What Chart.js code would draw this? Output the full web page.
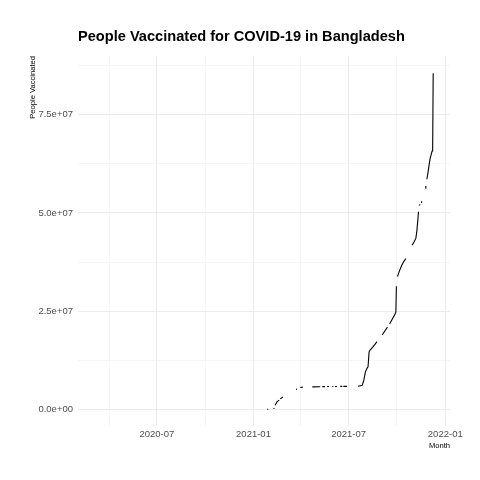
<!DOCTYPE html>
<html>
<head>
<meta charset="utf-8">
<script src="https://cdn.jsdelivr.net/npm/chart.js@4.4.1/dist/chart.umd.min.js"></script>
<style>
  html, body { margin: 0; padding: 0; background: #fff; }
  #wrap { width: 480px; height: 480px; position: relative; }
</style>
</head>
<body>
<div id="wrap"><canvas id="chart"></canvas></div>
<script>
// Bangladesh, people vaccinated (null = missing day, breaks the line)
const dates = [
  "2021-01-27", "2021-01-28", "2021-01-30",
  "2021-02-08", "2021-02-09", "2021-02-10",
  "2021-02-11", "2021-02-15", "2021-02-19", "2021-02-20",
  "2021-02-21", "2021-02-26", "2021-03-01",
  "2021-03-23", "2021-03-25", "2021-03-28",
  "2021-03-31", "2021-04-05", "2021-04-14",
  "2021-04-23", "2021-05-08", "2021-05-10",
  "2021-05-12", "2021-05-17", "2021-05-19",
  "2021-05-21", "2021-05-25", "2021-05-28",
  "2021-05-31", "2021-06-02", "2021-06-04",
  "2021-06-05", "2021-06-09", "2021-06-12",
  "2021-06-15", "2021-06-19", "2021-06-20",
  "2021-06-21", "2021-06-28", "2021-07-05",
  "2021-07-19", "2021-07-27", "2021-07-30", "2021-08-02", "2021-08-05", "2021-08-07", "2021-08-09", "2021-08-11", "2021-08-16", "2021-08-24", "2021-08-29",
  "2021-09-03", "2021-09-08", "2021-09-13", "2021-09-15",
  "2021-09-17", "2021-09-22", "2021-09-27", "2021-09-29", "2021-09-30", "2021-10-01",
  "2021-10-02", "2021-10-06", "2021-10-10", "2021-10-14", "2021-10-18", "2021-10-24",
  "2021-10-30", "2021-11-03", "2021-11-06", "2021-11-08", "2021-11-10", "2021-11-11", "2021-11-12",
  "2021-11-13", "2021-11-14", "2021-11-15",
  "2021-11-16", "2021-11-17", "2021-11-20",
  "2021-11-24", "2021-11-25", "2021-11-26",
  "2021-11-27", "2021-11-29", "2021-12-01", "2021-12-03", "2021-12-05", "2021-12-07", "2021-12-08", "2021-12-09"
]
const vaccinated = [
  0, 0.03e6, null,
  0.15e6, 0.3e6, null,
  1.0e6, 1.9e6, 2.3e6, null,
  2.6e6, 3.1e6, null,
  5.0e6, 5.1e6, null,
  5.5e6, 5.6e6, null,
  5.68e6, 5.72e6, null,
  5.73e6, 5.74e6, null,
  5.75e6, 5.76e6, null,
  5.77e6, 5.77e6, null,
  5.78e6, 5.78e6, null,
  5.79e6, 5.79e6, null,
  5.80e6, 5.81e6, null,
  5.85e6, 6.1e6, 7.4e6, 9.5e6, 10.4e6, 10.8e6, 14.6e6, 15.05e6, 15.8e6, 17.2e6, null,
  18.9e6, 19.9e6, 20.9e6, null,
  21.7e6, 22.9e6, 24.1e6, 24.8e6, 31.3e6, null,
  33.8e6, 35.3e6, 36.6e6, 37.6e6, 38.4e6, null,
  41.8e6, 42.7e6, 43.5e6, 45.5e6, 48.5e6, 50.3e6, null,
  51.9e6, 52.2e6, null,
  52.7e6, 53.0e6, null,
  56.3e6, 56.9e6, null,
  58.6e6, 60.2e6, 62.0e6, 63.8e6, 64.8e6, 65.8e6, 66.1e6, 85.6e6
]

const xMajorTicks = ["2020-07-01", "2021-01-01", "2021-07-01", "2022-01-01"]
const xMinorTicks = ["2020-04-01", "2020-10-01", "2021-04-01", "2021-10-01"]
const yMajorTicks = [0, 2.5e7, 5e7, 7.5e7]
const yMinorTicks = [1.25e7, 3.75e7, 6.25e7, 8.75e7]

const xRange = ["2020-02-02", "2022-01-10"]
const yRange = [-4.3e6, 90.0e6]

const toDay = (s) => Date.UTC(+s.slice(0, 4), +s.slice(5, 7) - 1, +s.slice(8, 10)) / 864e5
const fromDay = (d) => new Date(d * 864e5).toISOString().slice(0, 7)

const sci = (v) => {
  const [m, e] = v.toExponential(1).split("e")
  const sign = e[0] === "-" ? "-" : "+"
  const digits = e.replace(/[+-]/, "").padStart(2, "0")
  return `${m}e${sign}${digits}`
}

const xMajorDays = xMajorTicks.map(toDay)
const font = "'Liberation Sans Narrow', 'Liberation Sans', Arial, sans-serif"
const gridMajor = "#ebebeb"
const gridMinor = "#f0f0f0"

new Chart(document.getElementById("chart"), {
  type: "line",
  data: {
    datasets: [{
      data: dates.map((d, i) => ({ x: toDay(d), y: vaccinated[i] })),
      borderColor: "#000",
      borderWidth: 1.1,
      pointRadius: 0,
      tension: 0,
      spanGaps: false,
    }]
  },
  options: {
    responsive: true,
    maintainAspectRatio: false,
    animation: false,
    layout: { padding: { left: 0, right: 30, top: 0, bottom: 0 } },
    plugins: {
      legend: { display: false },
      tooltip: { enabled: false },
      title: {
        display: true,
        text: "People Vaccinated for COVID-19 in Bangladesh",
        align: "start",
        fullSize: false,
        color: "#000",
        font: { family: font, size: 14.6, weight: "bold" },
        padding: { top: 28, bottom: 10.5 },
      },
    },
    scales: {
      x: {
        type: "linear",
        min: toDay(xRange[0]),
        max: toDay(xRange[1]),
        afterBuildTicks: (s) => {
          s.ticks = [...xMinorTicks, ...xMajorTicks].map(toDay).sort((a, b) => a - b).map((v) => ({ value: v }))
        },
        afterFit: (s) => { s.height = 54 },
        grid: {
          drawTicks: false,
          color: (c) => xMajorDays.includes(c.tick.value) ? gridMajor : gridMinor,
          lineWidth: (c) => xMajorDays.includes(c.tick.value) ? 1 : 0.6,
        },
        border: { display: false },
        ticks: {
          autoSkip: false,
          maxRotation: 0,
          padding: 3,
          color: "#4d4d4d",
          font: { family: font, size: 9.5 },
          callback: (v) => xMajorDays.includes(v) ? fromDay(v) : "",
        },
        title: {
          display: true,
          text: "Month",
          align: "end",
          color: "#000",
          font: { family: font, size: 7.6 },
          padding: { top: 0, bottom: 30 },
        },
      },
      y: {
        min: yRange[0],
        max: yRange[1],
        afterBuildTicks: (s) => {
          s.ticks = [...yMajorTicks, ...yMinorTicks].sort((a, b) => a - b).map((v) => ({ value: v }))
        },
        afterFit: (s) => { s.width = 78 },
        grid: {
          drawTicks: false,
          color: (c) => yMajorTicks.includes(c.tick.value) ? gridMajor : gridMinor,
          lineWidth: (c) => yMajorTicks.includes(c.tick.value) ? 1 : 0.6,
        },
        border: { display: false },
        ticks: {
          autoSkip: false,
          padding: 5,
          color: "#4d4d4d",
          font: { family: font, size: 9.5 },
          callback: (v) => yMajorTicks.includes(v) ? sci(v) : "",
        },
        title: {
          display: true,
          text: "People Vaccinated",
          align: "end",
          color: "#000",
          font: { family: font, size: 7.6 },
          padding: { top: 28, bottom: 0 },
        },
      },
    },
  },
})
</script>
</body>
</html>
